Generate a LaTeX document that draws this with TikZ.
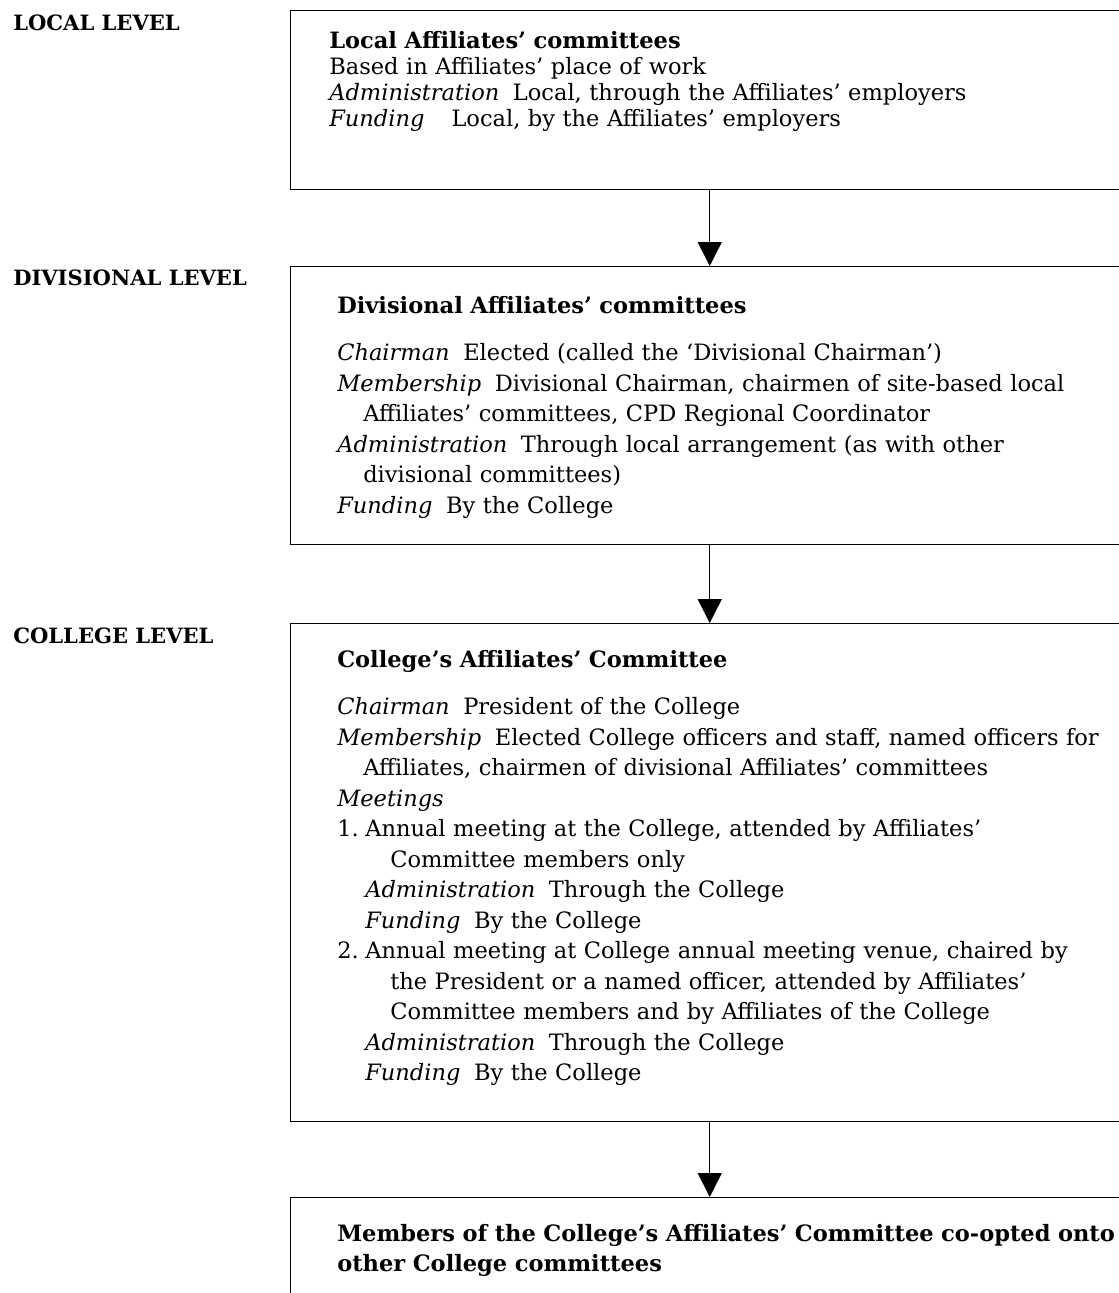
\documentclass[tikz,border=0pt]{standalone}
\usepackage{fontspec}
\setmainfont{DejaVu Serif}
\usepackage{tikz}
\usetikzlibrary{arrows.meta}
\newcommand{\pxu}{0.75pt}
\newcommand{\indA}{19.5pt}
\newcommand{\indB}{39.75pt}
\newcommand{\lbl}[1]{\textit{#1}\hspace{0.6em}}
\tikzset{
  levelbox/.style={rectangle, draw=black, line width=1.1pt, anchor=north west, inner sep=0pt, minimum width=838*\pxu},
  boxtext/.style={anchor=base west, inner sep=0pt, align=left, text width=700pt, font=\fontsize{16.9}{22.9}\selectfont},
  levellabel/.style={anchor=base west, inner sep=0pt, font=\fontsize{15.8}{18}\selectfont\bfseries},
  flowarrow/.style={-{Triangle[length=18pt,width=18pt]}, line width=1.1pt, draw=black},
}

\begin{document}
\begin{tikzpicture}[x=\pxu,y=-\pxu]
  \useasboundingbox (0,0) rectangle (1119,1293);
  \clip (0,0) rectangle (1119,1293);

  \node[levellabel] (locallbl) at (13,30) {LOCAL LEVEL};
  \node[levellabel] (divlbl) at (13,285) {DIVISIONAL LEVEL};
  \node[levellabel] (colllbl) at (13,643) {COLLEGE LEVEL};

  \node[levelbox, minimum height=179*\pxu] (localbox) at (290,10) {};
  \node[levelbox, minimum height=278*\pxu] (divbox) at (290,266) {};
  \node[levelbox, minimum height=498*\pxu] (collbox) at (290,623) {};
  \node[levelbox, minimum height=150*\pxu] (coopbox) at (290,1197) {};

  \node[boxtext, font=\fontsize{16.9}{19.5}\selectfont] (localtext) at (329,48) {\textbf{Local Affiliates' committees}\\
    Based in Affiliates' place of work\\
    \lbl{Administration}Local, through the Affiliates' employers\\
    \textit{Funding}\hspace{1.2em}Local, by the Affiliates' employers};

  \node[boxtext] (divtext) at (337,313) {\textbf{Divisional Affiliates' committees}\\[12.7pt]
    \lbl{Chairman}Elected (called the `Divisional Chairman')\\
    \lbl{Membership}Divisional Chairman, chairmen of site-based local\\
    \hspace*{\indA}Affiliates' committees, CPD Regional Coordinator\\
    \lbl{Administration}Through local arrangement (as with other\\
    \hspace*{\indA}divisional committees)\\
    \lbl{Funding}By the College};

  \node[boxtext] (colltext) at (337,667) {\textbf{College's Affiliates' Committee}\\[12.7pt]
    \lbl{Chairman}President of the College\\
    \lbl{Membership}Elected College officers and staff, named officers for\\
    \hspace*{\indA}Affiliates, chairmen of divisional Affiliates' committees\\
    \textit{Meetings}\\
    \makebox[21pt][l]{1.}Annual meeting at the College, attended by Affiliates'\\
    \hspace*{\indB}Committee members only\\
    \hspace*{21pt}\lbl{Administration}Through the College\\
    \hspace*{21pt}\lbl{Funding}By the College\\
    \makebox[21pt][l]{2.}Annual meeting at College annual meeting venue, chaired by\\
    \hspace*{\indB}the President or a named officer, attended by Affiliates'\\
    \hspace*{\indB}Committee members and by Affiliates of the College\\
    \hspace*{21pt}\lbl{Administration}Through the College\\
    \hspace*{21pt}\lbl{Funding}By the College};

  \node[boxtext] (cooptext) at (337,1241) {\textbf{Members of the College's Affiliates' Committee co-opted onto}\\
    \textbf{other College committees}};

  \draw[flowarrow] (localbox.south) -- (divbox.north);
  \draw[flowarrow] (divbox.south) -- (collbox.north);
  \draw[flowarrow] (collbox.south) -- (coopbox.north);
\end{tikzpicture}
\end{document}
